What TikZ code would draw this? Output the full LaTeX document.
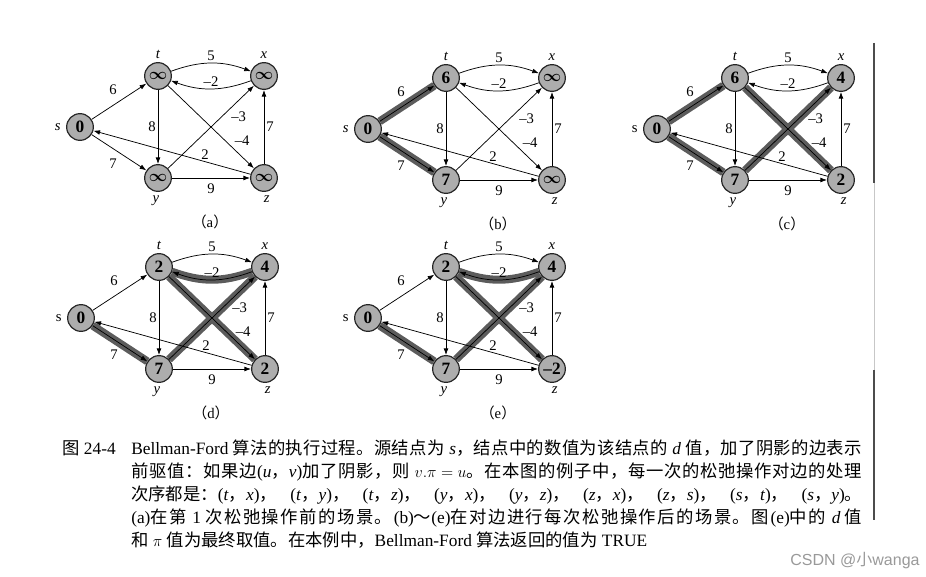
\documentclass[tikz,border=0pt]{standalone}
\usepackage{fontspec}
\setmainfont{Liberation Serif}
\newfontfamily\cjk{Noto Sans CJK SC}
\newfontfamily\wmfont{Liberation Sans}
\usetikzlibrary{arrows.meta,positioning,backgrounds}

\newcommand{\zh}[1]{{\cjk #1}}
% spread chinese letters so a caption line fills its width
\def\zhsloop#1{\ifx\relax#1\else#1\hskip 0pt plus 1fil\relax\expandafter\zhsloop\fi}
\newcommand{\zhs}[1]{{\cjk\zhsloop#1\relax}}
\newcommand{\capline}[1]{\makebox[548.25pt][s]{#1}}

\tikzset{
  vert/.style={circle, draw=black!85, line width=0.9pt, fill=black!32,
    minimum size=20pt, inner sep=0pt,
    font=\fontsize{13}{13}\selectfont\bfseries\boldmath},
  arc/.style={-{Latex[length=5pt,width=3.6pt]}, line width=0.55pt},
  shd/.style={line width=6pt, draw=black!64},
  wt/.style={font=\fontsize{11}{11}\selectfont, inner sep=1.5pt},
  vname/.style={font=\fontsize{11}{11}\selectfont\itshape, inner sep=1pt},
  captext/.style={font=\fontsize{13}{13}\selectfont, inner sep=0pt, anchor=base west},
}

% one panel: prefix, place of s, s text, d values of t x y z, panel letter
\newcommand{\bfpanel}[8]{%
\begin{scope}[shift={#2}]
  \node[vert] (#1s) at (0,0) {0};
  \node[vert] (#1t) at (78,51) {#4};
  \node[vert] (#1x) at (184,51) {#5};
  \node[vert] (#1y) at (78,-51) {#6};
  \node[vert] (#1z) at (184,-51) {#7};

  \node[vname, left=3pt of #1s] (#1ls) {#3};
  \node[vname, above=1.5pt of #1t] (#1lt) {t};
  \node[vname, above=1.5pt of #1x] (#1lx) {x};
  \node[vname, below=2pt of #1y, xshift=-1.5pt] (#1ly) {y};
  \node[vname, below=2pt of #1z, xshift=2pt] (#1lz) {z};
  \node[wt] (#1cap) at (130,-95) {\zh{（}#8\zh{）}};

  \draw[arc] (#1s) -- node[wt, midway, above left, yshift=3pt] {6} (#1t);
  \draw[arc] (#1s) -- node[wt, midway, below left, yshift=-3pt] {7} (#1y);
  \draw[arc] (#1t) to[bend left=20] node[wt, above] {5} (#1x);
  \draw[arc] (#1x) to[bend left=20] node[wt, above] {–2} (#1t);
  \draw[arc] (#1t) -- node[wt, left] {8} (#1y);
  \draw[arc] (#1t) -- node[wt, pos=0.75, above right] {–4} (#1z);
  \draw[arc] (#1y) -- node[wt, pos=0.71, below right] {–3} (#1x);
  \draw[arc] (#1y) -- node[wt, below=2.5pt] {9} (#1z);
  \draw[arc] (#1z) -- node[wt, right] {7} (#1x);
  \draw[arc] (#1z) -- node[wt, pos=0.29, above] {2} (#1s);
\end{scope}}

\begin{document}
\begin{tikzpicture}[x=0.75pt, y=0.75pt]
  \useasboundingbox (0,0) rectangle (926,-577);

  \bfpanel{a}{(80,-127)}{s}{$\infty$}{$\infty$}{$\infty$}{$\infty$}{a}
  \bfpanel{b}{(368,-129)}{s}{6}{$\infty$}{7}{$\infty$}{b}
  \bfpanel{c}{(657,-129)}{\upshape s}{6}{4}{7}{2}{c}
  \bfpanel{d}{(81,-318)}{\upshape s}{2}{4}{7}{2}{d}
  \bfpanel{e}{(368,-318)}{\upshape s}{2}{4}{7}{–2}{e}

  % shaded predecessor edges
  \begin{scope}[on background layer]
    \draw[shd] (bs) -- (bt);
    \draw[shd] (bs) -- (by);
    \draw[shd] (cs) -- (ct);
    \draw[shd] (cs) -- (cy);
    \draw[shd] (ct) -- (cz);
    \draw[shd] (cy) -- (cx);
    \draw[shd] (ds) -- (dy);
    \draw[shd] (dt) -- (dz);
    \draw[shd] (dy) -- (dx);
    \draw[shd] (dx) to[bend left=20] (dt);
    \draw[shd] (es) -- (ey);
    \draw[shd] (et) -- (ez);
    \draw[shd] (ey) -- (ex);
    \draw[shd] (ex) to[bend left=20] (et);
  \end{scope}

  % page edge
  \draw[black!70, line width=0.8pt] (874,-43) -- (874,-183);
  \draw[black!22, line width=0.6pt] (874,-183) -- (874,-370);
  \draw[black!70, line width=0.8pt] (874,-370) -- (874,-520);

  % caption
  \node[captext] (fig) at (62,-455) {\zh{图} 24-4};
  \node[captext] (l1) at (131,-455) {\capline{Bellman-Ford \zhs{算法的执行过程。源结点为} \textit{s}\zhs{，结点中的数值为该结点的} \textit{d} \zhs{值，加了阴影的边表示}}};
  \node[captext] (l2) at (131,-478) {\capline{\zhs{前驱值：如果边}(\textit{u}\zh{，}\textit{v})\zhs{加了阴影，则} $v.\pi=u$\zhs{。在本图的例子中，每一次的松弛操作对边的处理}}};
  \node[captext] (l3) at (131,-501) {\capline{\zh{次序都是：}(\textit{t}\zh{，}\textit{x})\zhs{，}(\textit{t}\zh{，}\textit{y})\zhs{，}(\textit{t}\zh{，}\textit{z})\zhs{，}(\textit{y}\zh{，}\textit{x})\zhs{，}(\textit{y}\zh{，}\textit{z})\zhs{，}(\textit{z}\zh{，}\textit{x})\zhs{，}(\textit{z}\zh{，}\textit{s})\zhs{，}(\textit{s}\zh{，}\textit{t})\zhs{，}(\textit{s}\zh{，}\textit{y})\zh{。}}};
  \node[captext] (l4) at (131,-524) {\capline{(a)\zhs{在第} 1 \zhs{次松弛操作前的场景。}(b)\zh{～}(e)\zhs{在对边进行每次松弛操作后的场景。图}(e)\zhs{中的} \textit{d} \zh{值}}};
  \node[captext] (l5) at (131,-547) {\zh{和} $\pi$ \zh{值为最终取值。在本例中，}Bellman-Ford \zh{算法返回的值为} TRUE};

  % watermark
  \node[font=\wmfont\fontsize{12}{12}\selectfont, text=black!40, inner sep=0pt] (wm) at (855,-561) {CSDN @\zh{小}wanga};
\end{tikzpicture}
\end{document}
